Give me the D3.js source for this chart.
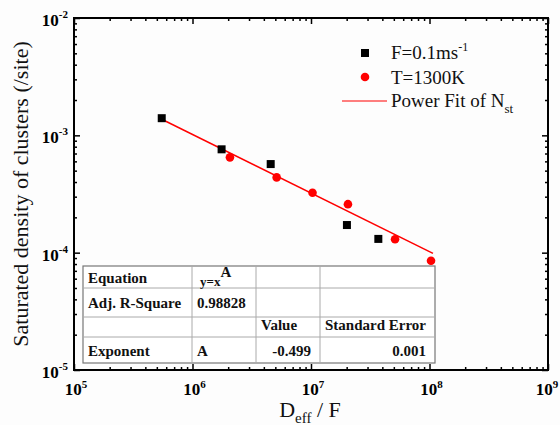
<!DOCTYPE html>
<html><head><meta charset="utf-8">
<script src="https://cdn.jsdelivr.net/npm/d3@7"></script>
<style>body{margin:0;background:#fff}svg{display:block}
text{font-family:"Liberation Serif","DejaVu Serif",serif}</style>
</head><body><svg id="c" width="560" height="425"></svg>
<script>
// ---- data ----
const xTickExps = [5, 6, 7, 8, 9];
const yTickExps = [-5, -4, -3, -2];
const seriesF_x = [5.5e5, 1.76e6, 4.57e6, 2.01e7, 3.70e7];
const seriesF_y = [1.40e-3, 7.6e-4, 5.69e-4, 1.72e-4, 1.31e-4];
const seriesT_x = [2.07e6, 5.13e6, 1.03e7, 2.05e7, 5.12e7, 1.03e8];
const seriesT_y = [6.49e-4, 4.38e-4, 3.24e-4, 2.59e-4, 1.30e-4, 8.53e-5];
const fitX = [5.5e5, 1.07e8];
const fitY = [1.37e-3, 9.85e-5];
const legendLabels = ["F=0.1ms", "T=1300K", "Power Fit of N"];
const tableRows = [
  ["Equation", "y=x", "", ""],
  ["Adj. R-Square", "0.98828", "", ""],
  ["", "", "Value", "Standard Error"],
  ["Exponent", "A", "-0.499", "0.001"]
];

// ---- layout ----
const svg = d3.select("#c");
const L = 74, R = 548, T = 18, B = 370;
const x = d3.scaleLog().domain([1e5, 1e9]).range([L, R]);
const y = d3.scaleLog().domain([1e-5, 1e-2]).range([B, T]);

svg.append("rect").attr("width", 560).attr("height", 425).attr("fill", "#fdfdfd");

const xMajor = xTickExps.map(e => Math.pow(10, e));
const yMajor = yTickExps.map(e => Math.pow(10, e));
const xMinor = x.ticks().filter(v => !xMajor.some(m => Math.abs(m - v) / m < 1e-6));
const yMinor = y.ticks().filter(v => !yMajor.some(m => Math.abs(m - v) / m < 1e-6));

function axisG(axis, tx, ty) {
  const g = svg.append("g").attr("transform", `translate(${tx},${ty})`).call(axis);
  g.select(".domain").remove();
  g.selectAll("text").remove();
  g.selectAll("line").attr("stroke", "#000").attr("stroke-width", 1.5);
  return g;
}
axisG(d3.axisBottom(x).tickValues(xMajor).tickSize(-6).tickSizeOuter(0), 0, B);
axisG(d3.axisBottom(x).tickValues(xMinor).tickSize(-3).tickSizeOuter(0), 0, B);
axisG(d3.axisTop(x).tickValues(xMajor).tickSize(-6).tickSizeOuter(0), 0, T);
axisG(d3.axisTop(x).tickValues(xMinor).tickSize(-3).tickSizeOuter(0), 0, T);
axisG(d3.axisLeft(y).tickValues(yMajor).tickSize(-6).tickSizeOuter(0), L, 0);
axisG(d3.axisLeft(y).tickValues(yMinor).tickSize(-3).tickSizeOuter(0), L, 0);
axisG(d3.axisRight(y).tickValues(yMajor).tickSize(-6).tickSizeOuter(0), R, 0);
axisG(d3.axisRight(y).tickValues(yMinor).tickSize(-3).tickSizeOuter(0), R, 0);

svg.append("rect").attr("x", L).attr("y", T).attr("width", R - L).attr("height", B - T)
  .attr("fill", "none").attr("stroke", "#000").attr("stroke-width", 2);

// tick labels
xTickExps.forEach(e => {
  const t = svg.append("text").attr("x", Math.min(x(Math.pow(10, e)) + 2, 547)).attr("y", 395)
    .attr("text-anchor", "middle").attr("font-weight", "bold")
    .attr("font-size", 17).attr("fill", "#000");
  t.append("tspan").text("10");
  t.append("tspan").attr("dy", -7).attr("font-size", 11).text(e);
});
yTickExps.forEach(e => {
  const t = svg.append("text").attr("x", 68).attr("y", y(Math.pow(10, e)) + 8)
    .attr("text-anchor", "end").attr("font-weight", "bold")
    .attr("font-size", 17).attr("fill", "#000");
  t.append("tspan").text("10");
  t.append("tspan").attr("dy", -8).attr("font-size", 11).text(e);
});

// axis titles
svg.append("text").attr("transform", `translate(28,${(T + B) / 2}) rotate(-90)`)
  .attr("text-anchor", "middle").attr("font-size", 22)
  .attr("fill", "#111").text("Saturated density of clusters (/site)");
const xt = svg.append("text").attr("x", 310).attr("y", 417).attr("text-anchor", "middle")
  .attr("font-size", 22).attr("fill", "#111");
xt.append("tspan").text("D");
xt.append("tspan").attr("dy", 6).attr("font-size", 15).text("eff");
xt.append("tspan").attr("dy", -6).text(" / F");

// table
const colX = [83, 192, 256, 320, 435];
const rowY = [266, 288, 317, 337, 363];
const tg = svg.append("g");
tg.append("rect").attr("x", colX[0]).attr("y", rowY[0]).attr("width", colX[4] - colX[0])
  .attr("height", rowY[4] - rowY[0]).attr("fill", "#fff").attr("stroke", "#777").attr("stroke-width", 1.2);
colX.slice(1, 4).forEach(cx => tg.append("line").attr("x1", cx).attr("x2", cx)
  .attr("y1", rowY[0]).attr("y2", rowY[4]).attr("stroke", "#aaa"));
rowY.slice(1, 4).forEach(ry => tg.append("line").attr("x1", colX[0]).attr("x2", colX[4])
  .attr("y1", ry).attr("y2", ry).attr("stroke", "#aaa"));
const baselines = [283, 308, 330, 356];
tableRows.forEach((row, ri) => {
  row.forEach((cell, ci) => {
    if (!cell) return;
    const rightAlign = (ri === 3 && ci >= 2);
    const tx = rightAlign ? colX[ci + 1] - 9 : colX[ci] + 5;
    const t = tg.append("text").attr("x", tx).attr("y", baselines[ri])
      .attr("text-anchor", rightAlign ? "end" : "start")
      .attr("font-weight", "bold").attr("font-size", 15).attr("fill", "#111");
    if (ri === 0 && ci === 1) {
      t.attr("x", tx + 3).attr("y", baselines[ri] + 3).attr("font-size", 13);
      t.append("tspan").text(cell);
      t.append("tspan").attr("dy", -9).attr("font-size", 15).text("A");
    } else {
      t.text(cell);
    }
  });
});

// fit line
const fitData = fitX.map((v, i) => [v, fitY[i]]);
svg.append("path").datum(fitData)
  .attr("d", d3.line().x(d => x(d[0])).y(d => y(d[1])))
  .attr("fill", "none").attr("stroke", "#ff0000").attr("stroke-width", 1.5);

// markers
const fData = seriesF_x.map((v, i) => [v, seriesF_y[i]]);
const tData = seriesT_x.map((v, i) => [v, seriesT_y[i]]);
svg.selectAll(".sq").data(fData).enter().append("rect")
  .attr("x", d => x(d[0]) - 4).attr("y", d => y(d[1]) - 4)
  .attr("width", 8).attr("height", 8).attr("fill", "#000");
svg.selectAll(".ci").data(tData).enter().append("circle")
  .attr("cx", d => x(d[0])).attr("cy", d => y(d[1])).attr("r", 4.3).attr("fill", "#ff0000");

// legend
const lg = svg.append("g");
lg.append("rect").attr("x", 361).attr("y", 49).attr("width", 8).attr("height", 8).attr("fill", "#000");
lg.append("circle").attr("cx", 365).attr("cy", 77).attr("r", 4.3).attr("fill", "#ff0000");
lg.append("line").attr("x1", 342).attr("x2", 387).attr("y1", 101).attr("y2", 101)
  .attr("stroke", "#ff0000").attr("stroke-width", 1.2);
const l1 = lg.append("text").attr("x", 391).attr("y", 59).attr("font-size", 19).attr("fill", "#111");
l1.append("tspan").text(legendLabels[0]);
l1.append("tspan").attr("dy", -8).attr("font-size", 12).text("-1");
lg.append("text").attr("x", 391).attr("y", 84).attr("font-size", 19).attr("fill", "#111").text(legendLabels[1]);
const l3 = lg.append("text").attr("x", 391).attr("y", 107).attr("font-size", 19).attr("fill", "#111");
l3.append("tspan").text(legendLabels[2]);
l3.append("tspan").attr("dy", 6).attr("font-size", 13).text("st");
</script></body></html>
